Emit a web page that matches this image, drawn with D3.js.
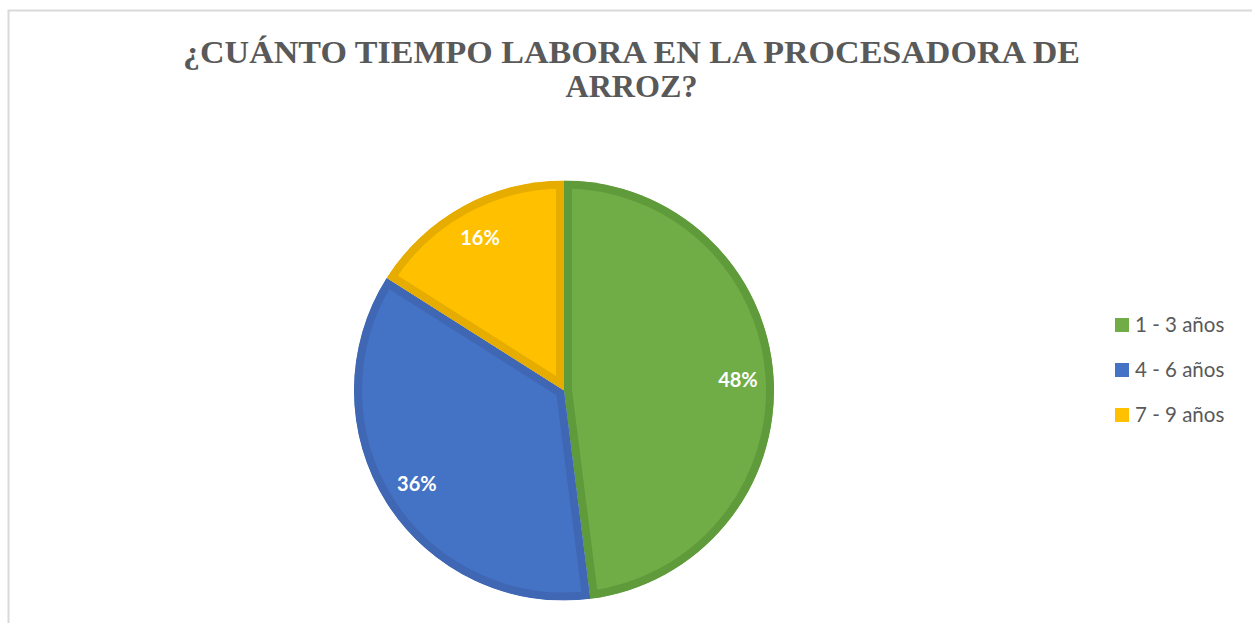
<!DOCTYPE html>
<html>
<head>
<meta charset="utf-8">
<script src="https://cdn.jsdelivr.net/npm/d3@7"></script>
<style>
  html, body { margin: 0; padding: 0; background: #fff; }
</style>
</head>
<body>
<div id="chart"></div>
<script>
// data (25 respondents)
var categories = ["1 - 3 años", "4 - 6 años", "7 - 9 años"];
var counts = [12, 9, 4];
var fillColors = ["#70AD47", "#4472C4", "#FFC000"];
var edgeColors = ["#5F9A3B", "#3F67B3", "#E6AC00"];
var titleLines = ["¿CUÁNTO TIEMPO LABORA EN LA PROCESADORA DE", "ARROZ?"];

var W = 1252, H = 623;
var CX = 564, CY = 390.5, R = 210;

var svg = d3.select("#chart").append("svg")
    .attr("width", W)
    .attr("height", H);

// chart frame
svg.append("path")
    .attr("d", "M8.5," + H + " L8.5,10.5 L" + W + ",10.5")
    .style("fill", "none")
    .style("stroke", "#d9d9d9")
    .style("stroke-width", 2);

// title
var titleLen = [897, 132];
svg.append("g").selectAll("text")
    .data(titleLines)
    .enter().append("text")
    .attr("x", 631.5)
    .attr("y", function(d, i) { return 63 + i * 34; })
    .attr("text-anchor", "middle")
    .attr("textLength", function(d, i) { return titleLen[i]; })
    .attr("lengthAdjust", "spacingAndGlyphs")
    .style("font-family", "'Liberation Serif', 'Times New Roman', serif")
    .style("font-weight", "bold")
    .style("font-size", "31px")
    .style("fill", "#595959")
    .text(function(d) { return d; });

var total = d3.sum(counts);
var pie = d3.pie().sort(null).value(function(d) { return d; });
var arcs = pie(counts);
var arc = d3.arc().innerRadius(0).outerRadius(R);

var g = svg.append("g").attr("transform", "translate(" + CX + "," + CY + ")");

var defs = svg.append("defs");
arcs.forEach(function(a, i) {
  defs.append("clipPath").attr("id", "clip" + i)
    .append("path").attr("d", arc(a));
});

// slices with inner darker border
g.selectAll("path.slice")
    .data(arcs)
    .enter().append("path")
    .attr("class", "slice")
    .attr("d", arc)
    .attr("clip-path", function(d, i) { return "url(#clip" + i + ")"; })
    .style("fill", function(d, i) { return fillColors[i]; })
    .style("stroke", function(d, i) { return edgeColors[i]; })
    .style("stroke-width", 16)
    .style("stroke-linejoin", "miter");

// percentage labels
var labelArc = d3.arc().innerRadius(R * 0.83).outerRadius(R * 0.83);
g.selectAll("text.lbl")
    .data(arcs)
    .enter().append("text")
    .attr("class", "lbl")
    .attr("transform", function(d) { return "translate(" + labelArc.centroid(d) + ")"; })
    .attr("text-anchor", "middle")
    .attr("dy", "0.35em")
    .style("font-family", "Lato, 'Open Sans', sans-serif")
    .style("font-weight", "bold")
    .style("font-size", "20px")
    .style("fill", "#fff")
    .text(function(d) { return Math.round(d.value / total * 100) + "%"; });

// legend
var legendY = d3.scalePoint().domain(categories).range([325, 415]);
var legend = svg.append("g").selectAll("g")
    .data(categories)
    .enter().append("g")
    .attr("transform", function(d) { return "translate(1115," + legendY(d) + ")"; });
legend.append("rect")
    .attr("x", 0).attr("y", -7)
    .attr("width", 14).attr("height", 14)
    .style("fill", function(d, i) { return fillColors[i]; });
legend.append("text")
    .attr("x", 20).attr("dy", "0.35em")
    .style("font-family", "Lato, 'Open Sans', sans-serif")
    .style("font-size", "20.5px")
    .style("fill", "#595959")
    .text(function(d) { return d; });
</script>
</body>
</html>
